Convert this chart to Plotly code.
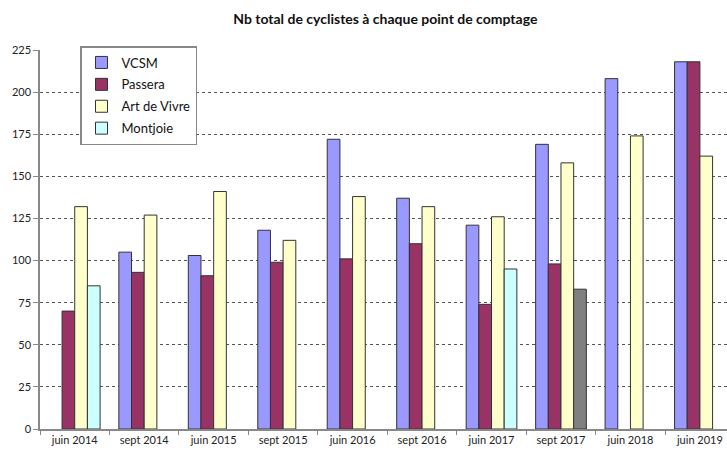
import plotly.graph_objects as go

categories = ["juin 2014", "sept 2014", "juin 2015", "sept 2015", "juin 2016",
              "sept 2016", "juin 2017", "sept 2017", "juin 2018", "juin 2019"]
vcsm = [None, 105, 103, 118, 172, 137, 121, 169, 208, 218]
passera = [70, 93, 91, 99, 101, 110, 74, 98, None, 218]
art_de_vivre = [132, 127, 141, 112, 138, 132, 126, 158, 174, 162]
montjoie = [85, None, None, None, None, None, 95, 83, None, None]
montjoie_colors = ["#CCFFFF"] * 7 + ["#808080"] + ["#CCFFFF"] * 2

series = [
    ("VCSM", vcsm, "#9999FF"),
    ("Passera", passera, "#993366"),
    ("Art de Vivre", art_de_vivre, "#FFFFCC"),
    ("Montjoie", montjoie, montjoie_colors),
]

fig = go.Figure()
for i, (name, vals, color) in enumerate(series):
    fig.add_trace(go.Bar(
        x=categories, y=vals, name=name, legendgroup=str(i),
        marker=dict(color=color, line=dict(color="#333333", width=1)),
    ))

font = "Lato, 'Open Sans', sans-serif"
fig.update_layout(
    width=727, height=455,
    margin=dict(l=40, r=0, t=50, b=26, autoexpand=False),
    paper_bgcolor="white", plot_bgcolor="white",
    barmode="group", bargap=0.27, bargroupgap=0,
    font=dict(family=font, size=11, color="#222222"),
    title=dict(text="<b>Nb total de cyclistes à chaque point de comptage</b>",
               x=0.53, xanchor="center", xref="container",
               y=1 - 19 / 455, yanchor="middle", yref="container",
               font=dict(family=font, size=14, color="#111111")),
    legend=dict(x=80 / 727, y=1 - 46 / 455, xanchor="left", yanchor="top",
                xref="container", yref="container",
                bgcolor="white", bordercolor="#888888", borderwidth=1.5,
                font=dict(family=font, size=13, color="#111111"),
                tracegroupgap=2, itemwidth=30),
    showlegend=True,
)
fig.update_xaxes(
    type="category", range=[-0.5, 9.39], automargin=False,
    showline=True, linecolor="#888888", linewidth=1.5,
    ticks="outside", tickson="boundaries", ticklen=4, tickcolor="#888888",
    showgrid=False, tickfont=dict(size=11),
)
fig.update_yaxes(
    range=[0, 225], tickvals=list(range(0, 226, 25)), automargin=False,
    showline=True, linecolor="#888888", linewidth=1.5,
    ticks="outside", ticklen=5, tickcolor="#888888",
    showgrid=True, gridcolor="#555555", griddash="dot", gridwidth=1,
    zeroline=False, tickfont=dict(size=11),
)

fig.write_html("out.html", config={"displayModeBar": False},
               post_script="document.body.style.margin='0';")
